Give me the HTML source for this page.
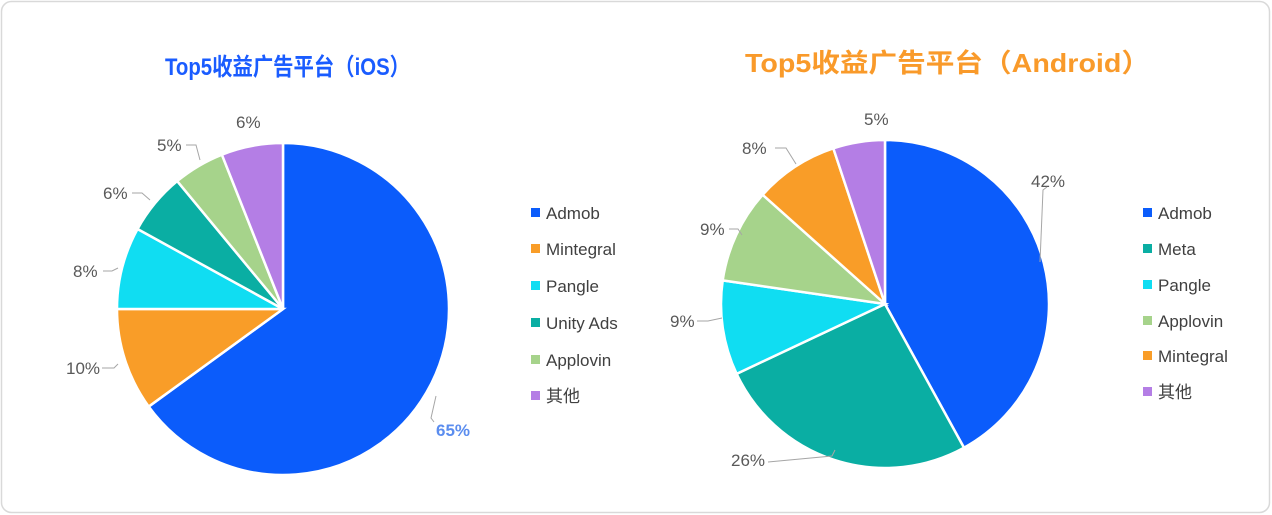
<!DOCTYPE html>
<html><head><meta charset="utf-8"><style>
html,body{margin:0;padding:0;background:#fff;}
svg{display:block;}
text{font-family:"Liberation Sans","Noto Sans CJK SC",sans-serif;}
</style></head><body>
<svg id="s" width="1272" height="515" xmlns="http://www.w3.org/2000/svg">
<rect x="1.5" y="1.5" width="1268" height="511" rx="10" fill="#fff" stroke="#d9d9d9" stroke-width="1.5"/>
<text x="165" y="75" font-size="24" font-weight="bold" fill="#1a5cff" textLength="245" lengthAdjust="spacingAndGlyphs">Top5收益广告平台（iOS）</text>
<text x="745" y="72" font-size="26" font-weight="bold" fill="#f99a2a" textLength="405" lengthAdjust="spacingAndGlyphs">Top5收益广告平台（Android）</text>
<g id="p1"></g><g id="p2"></g>
<g fill="#595959" font-size="17">
<text x="436" y="436" font-weight="bold" fill="#5b8def">65%</text>
<text x="66" y="374">10%</text>
<text x="73" y="277">8%</text>
<text x="103" y="199">6%</text>
<text x="157" y="151">5%</text>
<text x="236" y="128">6%</text>
<text x="1031" y="187">42%</text>
<text x="731" y="466">26%</text>
<text x="670" y="327">9%</text>
<text x="700" y="235">9%</text>
<text x="742" y="154">8%</text>
<text x="864" y="125">5%</text>
</g>
<g fill="none" stroke="#a6a6a6" stroke-width="1">
<polyline points="434,422 431,418 436,396"/>
<polyline points="102,368 114,368 118,364"/>
<polyline points="103,271 112,271 118,268"/>
<polyline points="132,193 142,193 150,200"/>
<polyline points="186,145 196,145 200,160"/>
<polyline points="1047,187 1043,190 1040,262"/>
<polyline points="768,462 832,456 835,450"/>
<polyline points="697,321 708,321 722,318"/>
<polyline points="729,229 738,229 742,235"/>
<polyline points="775,148 786,148 796,164"/>
</g>
<g font-size="17" fill="#404040" id="lg"></g>
</svg>
<script>
function pie(g,cx,cy,r,vals,cols){
 var tot=vals.reduce(function(a,b){return a+b},0),a=0,h='';
 for(var i=0;i<vals.length;i++){
  var a0=a/tot*2*Math.PI;a+=vals[i];var a1=a/tot*2*Math.PI;
  var x0=cx+r*Math.sin(a0),y0=cy-r*Math.cos(a0),x1=cx+r*Math.sin(a1),y1=cy-r*Math.cos(a1);
  h+='<path d="M'+cx+','+cy+' L'+x0+','+y0+' A'+r+','+r+' 0 '+((a1-a0)>Math.PI?1:0)+' 1 '+x1+','+y1+' Z" fill="'+cols[i]+'" stroke="#fff" stroke-width="2.5"/>';
 }
 document.getElementById(g).innerHTML=h;
}
var B='#0b5cfb',O='#f99d28',C='#10ddf2',T='#0aaea3',G='#a6d38b',P='#b47ee5';
pie('p1',283,309,166,[65,10,8,6,5,6],[B,O,C,T,G,P]);
pie('p2',885,304,164,[42,26,9.3,9.3,8.3,5.1],[B,T,C,G,O,P]);
var L='',l1=[['Admob',B],['Mintegral',O],['Pangle',C],['Unity Ads',T],['Applovin',G],['其他',P]],y1=[213,249,286,323,360,396];
l1.forEach(function(e,i){L+='<rect x="531" y="'+(y1[i]-5)+'" width="9" height="9" fill="'+e[1]+'"/><text x="546" y="'+(y1[i]+6)+'">'+e[0]+'</text>';});
var l2=[['Admob',B],['Meta',T],['Pangle',C],['Applovin',G],['Mintegral',O],['其他',P]],y2=[213,249,285,321,356,392];
l2.forEach(function(e,i){L+='<rect x="1143" y="'+(y2[i]-5)+'" width="9" height="9" fill="'+e[1]+'"/><text x="1158" y="'+(y2[i]+6)+'">'+e[0]+'</text>';});
document.getElementById('lg').innerHTML=L;
</script>
</body></html>
